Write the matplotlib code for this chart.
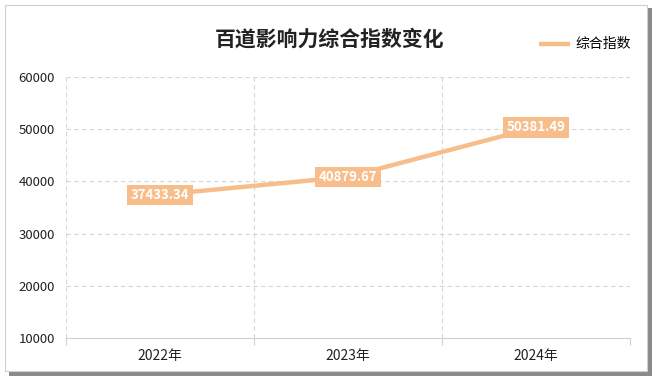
import matplotlib
matplotlib.use("Agg")
import matplotlib.pyplot as plt
from matplotlib.patches import Rectangle

plt.rcParams['font.family'] = ['Noto Sans CJK SC', 'DejaVu Sans']

years = ['2022年', '2023年', '2024年']
values = [37433.34, 40879.67, 50381.49]
value_labels = ['37433.34', '40879.67', '50381.49']
yticks = [10000, 20000, 30000, 40000, 50000, 60000]

orange = '#F7BE8C'

fig = plt.figure(figsize=(6.6, 3.86), dpi=100)

# framed card with a drop shadow
fig.patches.append(Rectangle((0.014, 0.025), 0.974, 0.955, transform=fig.transFigure,
                             facecolor='#8a8a8a', edgecolor='none', zorder=-2))
fig.patches.append(Rectangle((0.008, 0.04), 0.973, 0.948, transform=fig.transFigure,
                             facecolor='white', edgecolor='#d0d0d0', linewidth=0.8, zorder=-1))

ax = fig.add_axes([0.1, 0.1244, 0.8545, 0.676])
ax.set_facecolor('none')
x = list(range(len(years)))
ax.plot(x, values, color=orange, linewidth=3.2, label='综合指数', solid_capstyle='butt', zorder=3)

for xi, v, t in zip(x, values, value_labels):
    ax.text(xi, v, t, ha='center', va='center', color='white', fontsize=9.5,
            fontweight='bold', zorder=4,
            bbox=dict(boxstyle='square,pad=0.25', facecolor=orange, edgecolor='none'))

ax.set_xlim(-0.5, 2.5)
ax.set_ylim(10000, 60000)
ax.set_yticks(yticks)
ax.set_yticklabels([str(t) for t in yticks])
ax.set_xticks(x)
ax.set_xticklabels(years)
ax.set_xticks([-0.5, 0.5, 1.5, 2.5], minor=True)
ax.tick_params(axis='x', which='major', length=0, labelsize=10, colors='#222222', pad=8)
ax.tick_params(axis='x', which='minor', length=5, color='#d0d0d0', width=0.8)
ax.tick_params(axis='y', length=0, labelsize=9.5, colors='#222222', pad=8)

ax.grid(axis='y', linestyle=(0, (4, 3)), color='#d6d6d6', linewidth=0.8)
ax.grid(axis='x', which='minor', linestyle=(0, (4, 3)), color='#d6d6d6', linewidth=0.8)
for s in ['top', 'right', 'left']:
    ax.spines[s].set_visible(False)
ax.spines['bottom'].set_color('#d0d0d0')

fig.text(0.5, 0.9, '百道影响力综合指数变化', ha='center', va='center', fontsize=15,
         fontweight='bold', color='#222222')
fig.legend(loc='center right', bbox_to_anchor=(0.975, 0.885), frameon=False,
           fontsize=10, handlelength=2.2, handletextpad=0.4)

fig.savefig('out.png', dpi=100)
